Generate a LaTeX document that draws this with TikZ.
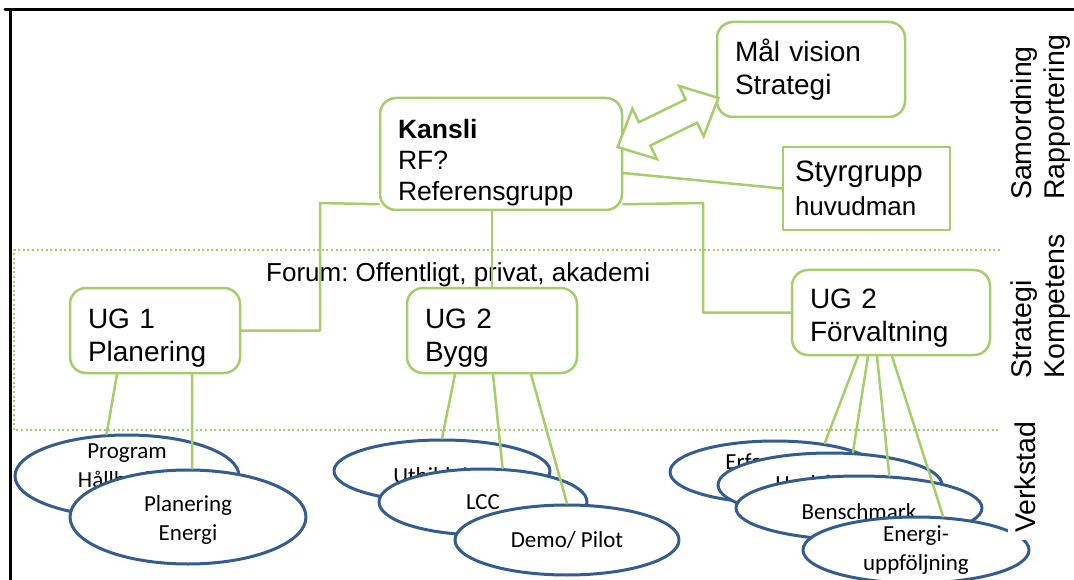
\documentclass[tikz,border=0pt]{standalone}
\usepackage{fontspec}
\setmainfont{Liberation Sans}
\newfontfamily\ovalfont{Carlito}
\usetikzlibrary{shapes.geometric}
\frenchspacing
\definecolor{lgreen}{RGB}{165,205,105}
\definecolor{dblue}{RGB}{52,92,145}
\newcommand{\topgap}[1]{\rule{0pt}{#1}}
\tikzset{
  gbox/.style={draw=lgreen, line width=2.5pt, rounded corners=16pt, fill=white, align=left,
    inner xsep=18pt, inner ysep=0pt, font=\fontsize{28}{33}\selectfont},
  sqbox/.style={gbox, rounded corners=0pt, inner xsep=12pt},
  oval/.style={ellipse, draw=dblue, line width=3pt, fill=white, inner sep=0pt},
  ovaltext/.style={align=center, inner sep=0pt, font=\ovalfont\fontsize{23}{29}\selectfont},
  glink/.style={draw=lgreen, line width=2.5pt},
  forumline/.style={draw=lgreen, line width=2.2pt, line cap=butt, dash pattern=on 2pt off 2.6pt},
  sidelabel/.style={rotate=90, fill=white, align=left, inner sep=7pt, font=\fontsize{28.5}{33}\selectfont},
}
\begin{document}
\begin{tikzpicture}[x=1pt, y=-1pt, line cap=round, line join=round]
  \useasboundingbox (0,0) rectangle (1074,580);
  % frame
  \draw[line width=3pt] (5,10) -- (1074,10);
  \draw[line width=3pt] (10,10) -- (10,580);
  % forum area
  \draw[forumline] (1000,250) -- (14,250) -- (14,430) -- (1000,430);
  \node[anchor=base west, inner sep=0pt, font=\fontsize{26}{30}\selectfont] (forum) at (266,282) {Forum: Offentligt, privat, akademi};
  % boxes
  \node[gbox, text width=152pt, minimum height=95pt] (mal) at (811,69.5) {Mål vision\\Strategi};
  \node[gbox, text width=206pt, minimum height=112pt, font=\fontsize{26.5}{31}\selectfont] (kansli) at (501,154) {\topgap{36pt}\textbf{Kansli}\\RF?\\Referensgrupp};
  \node[sqbox, text width=143pt, minimum height=83pt, font=\fontsize{29.5}{34}\selectfont] (styr) at (866.5,188.5) {Styrgrupp\\{\fontsize{26}{30}\selectfont huvudman}};
  \node[gbox, text width=134pt, minimum height=85pt] (ug1) at (155,330.5) {\topgap{35pt}UG 1\\Planering};
  \node[gbox, text width=134pt, minimum height=85pt] (bygg) at (492,330.5) {\topgap{35pt}UG 2\\Bygg};
  \node[gbox, text width=162pt, minimum height=85pt] (forv) at (891,312.5) {\topgap{31pt}UG 2\\Förvaltning};
  % links from Kansli
  \coordinate (kl) at (320,203);
  \coordinate (kr) at (703,203);
  \draw[glink] ([yshift=7pt]kansli.south west) -- (kl) |- (ug1.east);
  \draw[glink] ([yshift=7pt]kansli.south east) -- (kr) |- (forv.west);
  \draw[glink] (kansli.south -| bygg.north) -- (bygg.north);
  \draw[glink] ([yshift=-19pt]kansli.east) -- (styr.west);
  % double block arrow Kansli <-> Mål
  \begin{scope}[shift={(668,122.5)}, rotate=26]
    \draw[lgreen, line width=2.5pt, fill=white, line join=miter]
      (-56,0) -- (-26,28) -- (-26,13) -- (26,13) -- (26,28) -- (56,0)
      -- (26,-28) -- (26,-13) -- (-26,-13) -- (-26,-28) -- cycle;
  \end{scope}
  % workshops
  \node[oval, minimum width=224pt, minimum height=82pt, label={[ovaltext, yshift=10pt]center:{Program\\Hållbarhet}}] (e1) at (127,476) {};
  \node[oval, minimum width=236pt, minimum height=94pt, label={[ovaltext, yshift=-3pt]center:{Planering\\Energi}}] (e2) at (188,517) {};
  \node[oval, minimum width=216pt, minimum height=62pt, label={[ovaltext, yshift=-6pt]center:{Utbildning}}] (e3) at (442,471) {};
  \node[oval, minimum width=208pt, minimum height=66pt, label={[ovaltext]center:{LCC}}] (e4) at (483,502) {};
  \node[oval, minimum width=224pt, minimum height=70pt, label={[ovaltext]center:{Demo/ Pilot}}] (e5) at (567,540) {};
  \node[oval, minimum width=210pt, minimum height=62pt, label={[ovaltext, yshift=10pt]center:{Erfarenhet}}] (e6) at (775,472) {};
  \node[oval, minimum width=224pt, minimum height=64pt, label={[ovaltext]center:{Hushållning}}] (e7) at (830,485) {};
  \node[oval, minimum width=246pt, minimum height=64pt, label={[ovaltext, yshift=-4pt]center:{Benschmark}}] (e8) at (859,508) {};
  \node[oval, minimum width=226pt, minimum height=66pt, label={[ovaltext]center:{Energi-\\uppföljning}}] (e9) at (916,550) {};
  % links to workshops
  \draw[glink] ([xshift=-38pt]ug1.south) -- (e1.116);
  \draw[glink] ([xshift=37pt]ug1.south) -- (e2.85);
  \draw[glink] ([xshift=-37pt]bygg.south) -- (e3.north);
  \draw[glink] ([xshift=1pt]bygg.south) -- (e4.60);
  \draw[glink] ([xshift=39pt]bygg.south) -- (e5.north);
  \draw[glink] ([xshift=-33pt]forv.south) -- (e6.30);
  \draw[glink] ([xshift=-23pt]forv.south) -- (e7.55);
  \draw[glink] ([xshift=-14pt]forv.south) -- (e8.47);
  \draw[glink] ([xshift=1pt]forv.south) -- (e9.51);
  % level labels
  \node[sidelabel] (samlab) at (1041,117.5) {Samordning\\Rapportering};
  \node[sidelabel] (stratlab) at (1041,306.5) {Strategi\\Kompetens};
  \node[sidelabel] (verklab) at (1025,477.5) {Verkstad};
\end{tikzpicture}
\end{document}
